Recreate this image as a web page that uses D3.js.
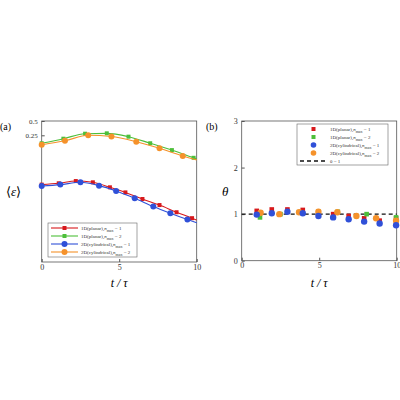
<!DOCTYPE html>
<html><head><meta charset="utf-8">
<script src="https://cdn.jsdelivr.net/npm/d3@7"></script>
<style>body{margin:0;background:#fff}text{font-family:"Liberation Serif",serif}</style>
</head><body>
<svg id="c" width="400" height="400"></svg>
<script>
// panel (a) <eps>, log scale
const redA = [[0,0.0229],[1.1,0.0244],[2.2,0.0272],[3.3,0.0256],[4.4,0.0201],[5.4,0.0157],[6.5,0.0114],[7.6,0.0085],[8.7,0.006],[9.7,0.0045],[10,0.0041]];
const greenA = [[0,0.170],[1.4,0.212],[2.8,0.27],[4.2,0.275],[5.6,0.234],[7.0,0.170],[8.4,0.122],[9.8,0.084],[10,0.080]];
const blueA = [[0,0.0214],[1.2,0.0229],[2.5,0.0256],[3.7,0.0218],[4.8,0.0168],[6.0,0.0118],[7.2,0.0079],[8.3,0.0057],[9.4,0.0042],[10,0.0036]];
const orangeA = [[0,0.158],[1.5,0.192],[3.0,0.25],[4.5,0.235],[6.1,0.183],[7.6,0.133],[9.1,0.092],[10,0.076]];
// panel (b) theta
const redB = [[0.97,1.07],[1.94,1.10],[2.95,1.10],[3.94,1.09],[5.9,1.0],[6.9,0.96],[7.9,0.91],[8.9,0.86],[9.96,0.91]];
const greenB = [[1.18,0.93],[2.5,1.0],[3.7,1.04],[4.95,1.05],[6.2,1.05],[8.06,1.0],[9.96,0.93]];
const blueB = [[0.97,0.99],[1.94,1.02],[2.95,1.05],[3.94,1.02],[4.95,0.96],[5.9,0.93],[6.9,0.89],[7.9,0.84],[8.9,0.80],[9.96,0.76]];
const orangeB = [[1.22,1.03],[2.43,1.0],[3.7,1.04],[4.95,1.05],[6.17,1.04],[7.4,0.96],[8.67,0.91],[9.96,0.86]];
const xTicks = [0,5,10];
const yTicksA = [0.5,0.25];
const yTicksB = [0,1,2,3];
const labels = [["1D(planar),","n","max"," = 1"],["1D(planar),","n","max"," = 2"],["2D(cylindrical),","n","max"," = 1"],["2D(cylindrical),","n","max"," = 2"]];

const cRed="#d7191c", cGreen="#4dbf3a", cBlue="#3050d8", cOrange="#f5922b";
const svg = d3.select("#c");

function frame(xr,yr){
  svg.append("rect").attr("x",xr[0]).attr("y",yr[1]).attr("width",xr[1]-xr[0]).attr("height",yr[0]-yr[1])
    .attr("fill","none").attr("stroke","#555").attr("stroke-width",0.8);
}
function styleAxis(g,fs){
  g.select(".domain").remove();
  g.selectAll("text").attr("font-size",fs).attr("fill","#333");
  g.selectAll("line").attr("stroke","#555");
}
function legendText(g,L,yy){
  const t = g.append("text").attr("x",33).attr("y",yy+2).attr("font-size",5).attr("fill","#333");
  t.append("tspan").text(L[0]);
  t.append("tspan").attr("font-style","italic").text(L[1]);
  t.append("tspan").attr("dy",1.5).attr("font-size",4).text(L[2]);
  t.append("tspan").attr("dy",-1.5).text(L[3]);
}

// ---- panel (a)
const xa = d3.scaleLinear().domain([0,10]).range([41.7,196.7]);
const ya = d3.scaleLog().domain([0.5*Math.pow(2,-141/14.3),0.5]).range([262,121]);
frame(xa.range(),ya.range());
svg.append("g").attr("transform","translate(0,262)")
  .call(d3.axisBottom(xa).tickValues(xTicks).tickSize(-3).tickPadding(2))
  .call(g=>styleAxis(g,8));
svg.append("g").attr("transform","translate(41.7,0)")
  .call(d3.axisLeft(ya).tickValues(yTicksA).tickFormat(d3.format("")).tickSize(-3).tickPadding(4))
  .call(g=>styleAxis(g,7));
const lineA = d3.line().x(d=>xa(d[0])).y(d=>ya(d[1])).curve(d3.curveMonotoneX);
[[greenA,cGreen,"s"],[orangeA,cOrange,"c"],[redA,cRed,"s"],[blueA,cBlue,"c"]].forEach(([data,col,shape])=>{
  svg.append("path").datum(data).attr("d",lineA).attr("fill","none").attr("stroke",col).attr("stroke-width",1.1);
  const pts = data.filter(d=>d[0]<10);
  if(shape==="s") svg.selectAll(null).data(pts).enter().append("rect")
    .attr("x",d=>xa(d[0])-2).attr("y",d=>ya(d[1])-2).attr("width",4).attr("height",4).attr("fill",col);
  else svg.selectAll(null).data(pts).enter().append("circle")
    .attr("cx",d=>xa(d[0])).attr("cy",d=>ya(d[1])).attr("r",3).attr("fill",col);
});
// legend (a)
const lgA = svg.append("g").attr("transform","translate(48,223)");
lgA.append("rect").attr("width",89).attr("height",34).attr("fill","#fff").attr("stroke","#666").attr("stroke-width",0.6);
[[cRed,"s"],[cGreen,"s"],[cBlue,"c"],[cOrange,"c"]].forEach(([col,sh],i)=>{
  const yy = 5+i*8;
  lgA.append("line").attr("x1",3).attr("x2",30).attr("y1",yy).attr("y2",yy).attr("stroke",col).attr("stroke-width",1.1);
  if(sh==="s") lgA.append("rect").attr("x",14.5).attr("y",yy-2).attr("width",4).attr("height",4).attr("fill",col);
  else lgA.append("circle").attr("cx",16.5).attr("cy",yy).attr("r",3).attr("fill",col);
  legendText(lgA,labels[i],yy);
});

// ---- panel (b)
const xb = d3.scaleLinear().domain([0,10]).range([241.7,396.7]);
const yb = d3.scaleLinear().domain([0,3]).range([260.7,121]);
frame(xb.range(),yb.range());
svg.append("g").attr("transform","translate(0,260.7)")
  .call(d3.axisBottom(xb).tickValues(xTicks).tickSize(-3).tickPadding(2))
  .call(g=>styleAxis(g,8));
svg.append("g").attr("transform","translate(241.7,0)")
  .call(d3.axisLeft(yb).tickValues(yTicksB).tickFormat(d3.format("d")).tickSize(-3).tickPadding(4))
  .call(g=>styleAxis(g,8));
svg.append("line").attr("x1",xb(0)).attr("x2",xb(10)).attr("y1",yb(1)).attr("y2",yb(1))
  .attr("stroke","#111").attr("stroke-width",1.3).attr("stroke-dasharray","4,3");
[[redB,cRed,"s"],[greenB,cGreen,"s"],[orangeB,cOrange,"c"],[blueB,cBlue,"c"]].forEach(([data,col,sh])=>{
  if(sh==="s") svg.selectAll(null).data(data).enter().append("rect")
    .attr("x",d=>xb(d[0])-2.3).attr("y",d=>yb(d[1])-2.3).attr("width",4.6).attr("height",4.6).attr("fill",col);
  else svg.selectAll(null).data(data).enter().append("circle")
    .attr("cx",d=>xb(d[0])).attr("cy",d=>yb(d[1])).attr("r",3.2).attr("fill",col);
});
// legend (b)
const lgB = svg.append("g").attr("transform","translate(297,124)");
lgB.append("rect").attr("width",91).attr("height",41).attr("fill","#fff").attr("stroke","#666").attr("stroke-width",0.6);
[[cRed,"s"],[cGreen,"s"],[cBlue,"c"],[cOrange,"c"]].forEach(([col,sh],i)=>{
  const yy = 5+i*8;
  if(sh==="s") lgB.append("rect").attr("x",14.5).attr("y",yy-2).attr("width",4).attr("height",4).attr("fill",col);
  else lgB.append("circle").attr("cx",16.5).attr("cy",yy).attr("r",2.8).attr("fill",col);
  legendText(lgB,labels[i],yy);
});
lgB.append("line").attr("x1",3).attr("x2",30).attr("y1",37).attr("y2",37).attr("stroke","#111").attr("stroke-width",1.3).attr("stroke-dasharray","4,3");
lgB.append("text").attr("x",33).attr("y",39).attr("font-size",5).attr("fill","#333").text("θ = 1");

// labels
svg.append("text").attr("x",0).attr("y",130).attr("font-size",10).attr("font-family","Liberation Sans").text("(a)");
svg.append("text").attr("x",206).attr("y",130).attr("font-size",10).attr("font-family","Liberation Sans").text("(b)");
const eps = svg.append("text").attr("x",6).attr("y",196).attr("font-size",13);
eps.append("tspan").text("⟨");
eps.append("tspan").attr("font-style","italic").text("ε");
eps.append("tspan").text("⟩");
svg.append("text").attr("x",222).attr("y",196).attr("font-size",13).attr("font-style","italic").text("θ");
[xa,xb].forEach(s=>svg.append("text").attr("x",s(5)).attr("y",287).attr("text-anchor","middle")
  .attr("font-size",12).attr("font-style","italic").text("t / τ"));
</script>
</body></html>
